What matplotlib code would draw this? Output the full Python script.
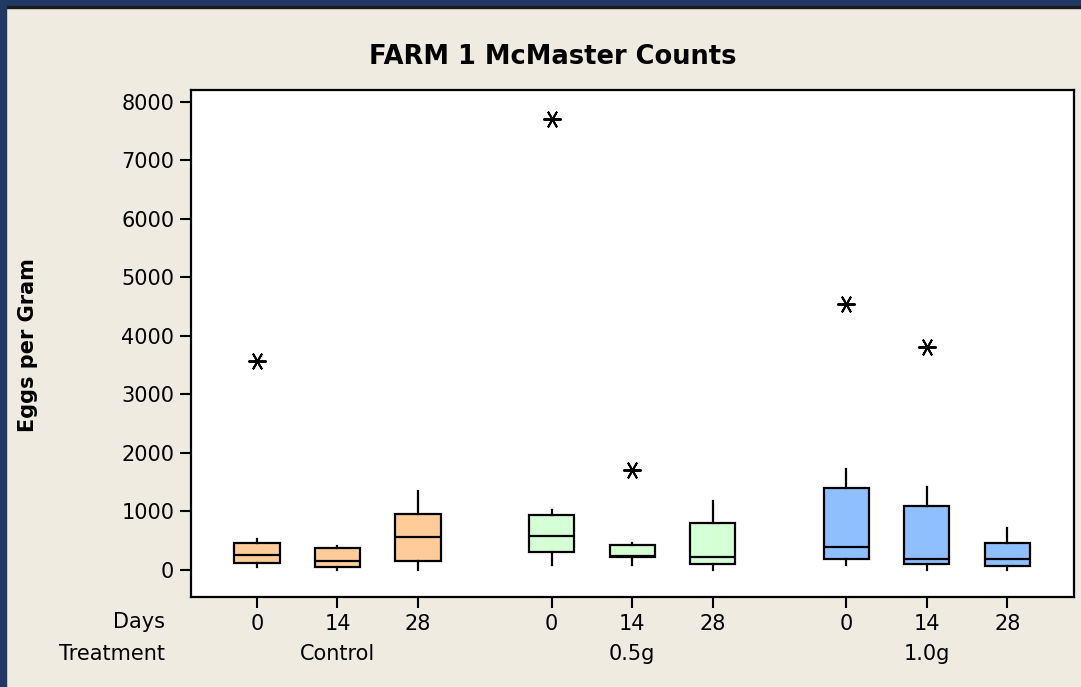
import matplotlib.pyplot as plt
from matplotlib.patches import Rectangle

# ── Data ──────────────────────────────────────────────────────────────────────
treatments = ["Control", "0.5g", "1.0g"]
days = ["0", "14", "28"]
colors = ["#FFCC99", "#D5FFD5", "#8FBFFF"]

whislo = [48, 0, 0, 77, 77, 0, 77, 0, 0]
q1     = [116, 48, 150, 299, 214, 89, 179, 89, 60]
med    = [243, 150, 550, 578, 236, 214, 390, 185, 185]
q3     = [458, 368, 949, 937, 424, 790, 1398, 1091, 453]
whishi = [516, 402, 1347, 1012, 458, 1166, 1713, 1405, 704]
fliers = [[3560], [], [], [7710], [1700], [], [4540], [3800], []]

# ── Layout ────────────────────────────────────────────────────────────────────
BG = "#EFEBE0"
NAVY = "#1F3864"
group_step = 3.66
positions = [g * group_step + d for g in range(3) for d in range(3)]

fig = plt.figure(figsize=(10.81, 6.87), dpi=100, facecolor=BG)
fig.patches.append(Rectangle((0, 1 - 6 / 687), 1, 6 / 687, transform=fig.transFigure,
                             color=NAVY, zorder=0))
fig.patches.append(Rectangle((0, 1 - 8 / 687), 1, 2 / 687, transform=fig.transFigure,
                             color="#1A1A1A", zorder=0))
fig.patches.append(Rectangle((0, 0), 6 / 1081, 1, transform=fig.transFigure,
                             color=NAVY, zorder=0))

ax = fig.add_axes([191 / 1081, 1 - 597 / 687, (1074 - 191) / 1081, (597 - 90) / 687])
ax.set_facecolor("white")

stats = [dict(whislo=whislo[i], q1=q1[i], med=med[i], q3=q3[i], whishi=whishi[i],
              fliers=fliers[i]) for i in range(9)]
bp = ax.bxp(stats, positions=positions, widths=0.56, patch_artist=True,
            showcaps=False,
            boxprops=dict(edgecolor="black", linewidth=1.6),
            medianprops=dict(color="black", linewidth=1.6),
            whiskerprops=dict(color="black", linewidth=1.6),
            flierprops=dict(marker=(6, 2, 90), markersize=13, markeredgecolor="black",
                            markeredgewidth=1.4, linestyle="none"))
for i, box in enumerate(bp["boxes"]):
    box.set_facecolor(colors[i // 3])

ax.set_xlim(-0.82, 10.15)
ax.set_ylim(-470, 8200)
ax.set_yticks(range(0, 8001, 1000))
ax.set_xticks(positions)
ax.set_xticklabels(days * 3)
ax.tick_params(labelsize=15, length=8, width=1.5, direction="out", pad=4, colors="black")
for s in ax.spines.values():
    s.set_linewidth(1.6)

# second label row: treatment names under the middle day of each group
row_y = 1 - 654 / 687
to_fig = ax.transData + fig.transFigure.inverted()
for g, t in enumerate(treatments):
    xf = to_fig.transform((g * group_step + 1, 0))[0]
    fig.text(xf, row_y, t, ha="center", va="center", fontsize=15)
fig.text(165 / 1081, 1 - 622 / 687, "Days", ha="right", va="center", fontsize=15)
fig.text(165 / 1081, row_y, "Treatment", ha="right", va="center", fontsize=15)

fig.text(553 / 1081, 1 - 57 / 687, "FARM 1 McMaster Counts", ha="center", va="center",
         fontsize=18.5, fontweight="bold")
fig.text(28 / 1081, 1 - 345 / 687, "Eggs per Gram", ha="center", va="center",
         rotation=90, fontsize=15, fontweight="bold")

fig.savefig("out.png", dpi=100, facecolor=BG)
